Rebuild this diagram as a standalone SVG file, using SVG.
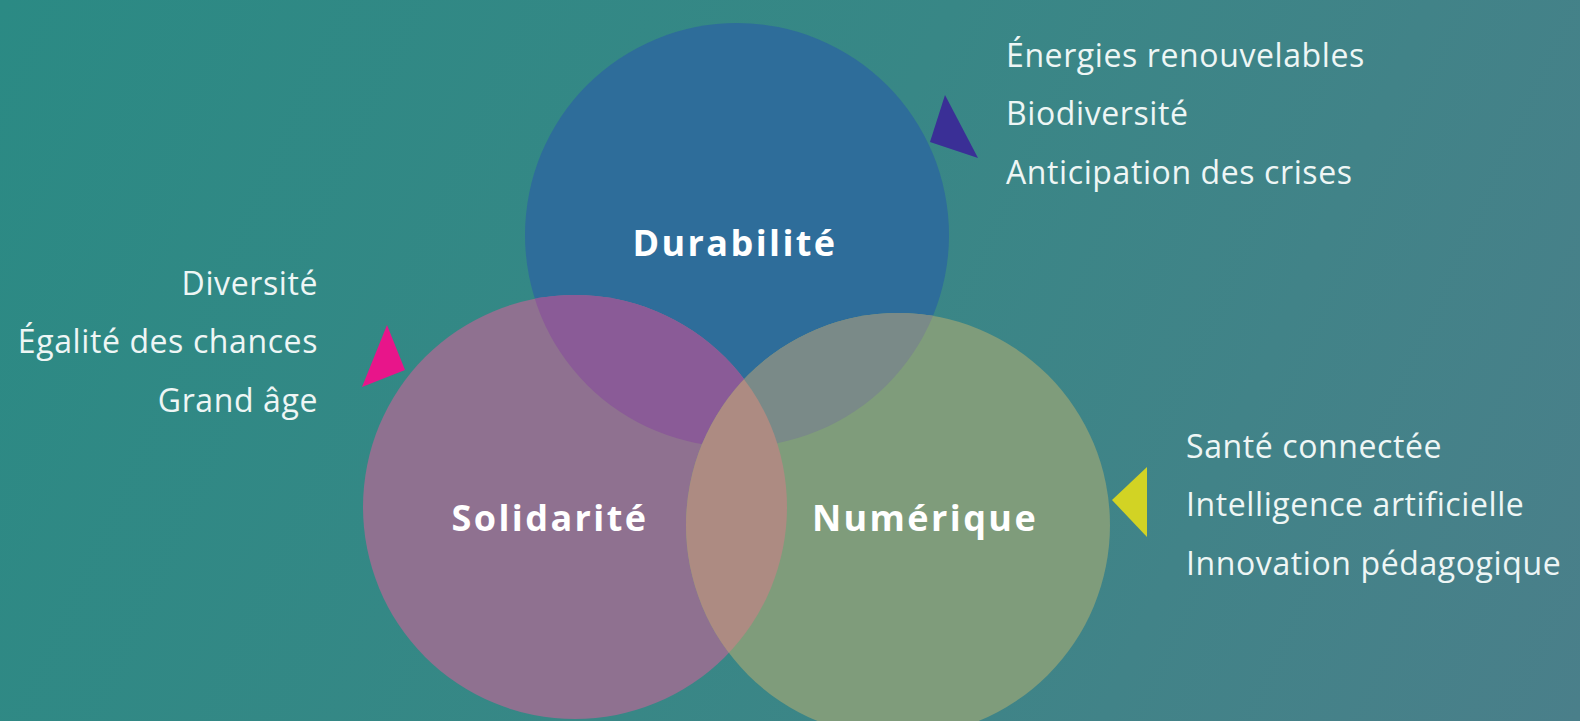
<svg xmlns="http://www.w3.org/2000/svg" width="1580" height="721" viewBox="0 0 1580 721">
  <style>
    .item { font-family: "Open Sans", "Noto Sans", "Liberation Sans", sans-serif; font-size: 32px; fill: #eef6f5; letter-spacing: 0.6px; }
    .title { font-family: "Open Sans", "Noto Sans", "Liberation Sans", sans-serif; font-size: 36px; font-weight: bold; fill: #ffffff; letter-spacing: 2.4px; text-anchor: middle; }
  </style>
  <defs>
    <linearGradient id="bg" x1="0" y1="0" x2="1580" y2="721" gradientUnits="userSpaceOnUse">
      <stop offset="0" stop-color="#2b8a84"/>
      <stop offset="0.5" stop-color="#388786"/>
      <stop offset="1" stop-color="#4a7f8a"/>
    </linearGradient>
    <clipPath id="clipPink"><circle cx="575" cy="507" r="212"/></clipPath>
    <clipPath id="clipGreen"><circle cx="898" cy="525" r="212"/></clipPath>
  </defs>
  <rect x="0" y="0" width="1580" height="721" fill="url(#bg)"/>

  <g id="node-durabilite">
    <circle cx="737" cy="235" r="212" fill="#2e6d9a"/>
  </g>
  <g id="node-solidarite">
    <circle cx="575" cy="507" r="212" fill="#8f7190"/>
  </g>
  <g id="node-numerique">
    <circle cx="898" cy="525" r="212" fill="#7f9c7b"/>
  </g>
  <g id="overlaps">
    <circle cx="737" cy="235" r="212" fill="#8a5b97" clip-path="url(#clipPink)"/>
    <circle cx="737" cy="235" r="212" fill="#7a8a88" clip-path="url(#clipGreen)"/>
    <circle cx="575" cy="507" r="212" fill="#ad8b82" clip-path="url(#clipGreen)"/>
  </g>

  <g id="labels">
    <text class="title" x="735" y="256">Durabilité</text>
    <text class="title" x="550" y="531">Solidarité</text>
    <text class="title" x="925" y="531">Numérique</text>
  </g>

  <g id="connectors">
    <polygon points="945,95 930,142 978,158" fill="#3a2f96"/>
    <polygon points="387,325 405,370 362,387" fill="#e8158a"/>
    <polygon points="1147,467 1112,500 1147,537" fill="#d2d324"/>
  </g>

  <g id="list-durabilite">
    <text class="item" x="1006" y="67">Énergies renouvelables</text>
    <text class="item" x="1006" y="125">Biodiversité</text>
    <text class="item" x="1006" y="184">Anticipation des crises</text>
  </g>
  <g id="list-solidarite">
    <text class="item" x="318" y="295" text-anchor="end">Diversité</text>
    <text class="item" x="318" y="353" text-anchor="end">Égalité des chances</text>
    <text class="item" x="318" y="412" text-anchor="end">Grand âge</text>
  </g>
  <g id="list-numerique">
    <text class="item" x="1186" y="458">Santé connectée</text>
    <text class="item" x="1186" y="516">Intelligence artificielle</text>
    <text class="item" x="1186" y="575">Innovation pédagogique</text>
  </g>
</svg>
